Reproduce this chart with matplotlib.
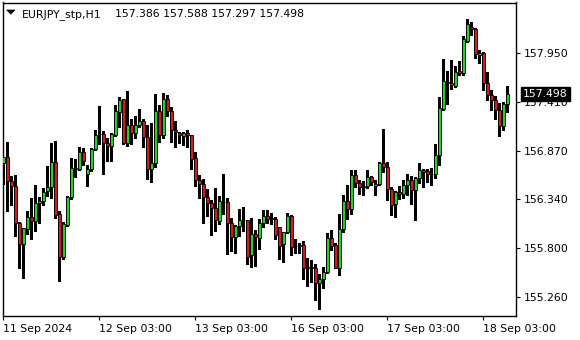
import matplotlib
matplotlib.use("Agg")
import matplotlib.pyplot as plt
from matplotlib.patches import Polygon
import numpy as np

plt.rcParams['font.family'] = ['DejaVu Sans']

symbol = "EURJPY_stp,H1"

opens = [156.731, 156.804, 156.536, 156.485, 156.078, 155.851, 156.016, 156.140, 156.096, 156.294,
         156.320, 156.423, 156.470, 156.745, 156.173, 155.704, 156.060, 156.357, 156.665, 156.665,
         156.855, 156.613, 156.668, 156.888, 157.053, 157.053, 156.954, 156.918, 157.039, 157.295,
         157.436, 156.951, 157.152, 157.061, 157.149, 157.196, 157.020, 156.668, 156.734, 157.306,
         157.042, 157.438, 157.306, 157.097, 157.064, 157.031, 157.064, 157.042, 156.789, 156.551,
         156.507, 156.360, 156.294, 156.243, 156.104, 156.305, 156.305, 156.074, 155.920, 156.041,
         156.107, 156.107, 155.722, 155.953, 155.909, 156.074, 156.151, 156.129, 156.122, 156.034,
         155.843, 155.975, 156.151, 155.825, 155.832, 155.832, 155.594, 155.594, 155.579, 155.422,
         155.458, 155.543, 155.913, 155.832, 155.587, 156.012, 156.320, 156.228, 156.606, 156.514,
         156.470, 156.481, 156.584, 156.481, 156.503, 156.734, 156.690, 156.448, 156.283, 156.415,
         156.393, 156.489, 156.547, 156.437, 156.569, 156.657, 156.650, 156.617, 156.613, 156.819,
         157.332, 157.614, 157.618, 157.585, 157.750, 157.721, 158.080, 158.234, 158.212, 157.919,
         157.948, 157.618, 157.486, 157.431, 157.321, 157.138, 157.386]

highs = [156.806, 156.969, 156.595, 156.606, 156.093, 156.027, 156.210, 156.353, 156.496, 156.360,
         156.459, 156.705, 156.954, 156.980, 156.210, 156.093, 156.368, 156.789, 156.782, 156.914,
         156.899, 156.716, 156.899, 157.101, 157.361, 157.083, 157.009, 157.061, 157.369, 157.460,
         157.440, 157.523, 157.222, 157.255, 157.332, 157.218, 157.156, 157.178, 157.493, 157.376,
         157.504, 157.486, 157.350, 157.200, 157.072, 157.079, 157.097, 157.046, 156.859, 156.606,
         156.562, 156.448, 156.327, 156.463, 156.375, 156.617, 156.349, 156.129, 156.052, 156.232,
         156.254, 156.115, 156.137, 155.997, 156.126, 156.214, 156.221, 156.184, 156.140, 156.038,
         155.983, 156.188, 156.166, 155.902, 155.862, 155.876, 155.693, 155.671, 155.627, 155.513,
         155.598, 155.964, 156.001, 155.854, 156.177, 156.382, 156.492, 156.661, 156.661, 156.551,
         156.540, 156.657, 156.595, 156.544, 156.742, 157.112, 156.749, 156.470, 156.423, 156.485,
         156.551, 156.613, 156.595, 156.580, 156.734, 156.668, 156.668, 156.683, 156.947, 157.460,
         157.878, 157.750, 157.871, 157.805, 157.853, 158.128, 158.322, 158.285, 158.216, 157.981,
         157.952, 157.739, 157.541, 157.475, 157.394, 157.409, 157.588]

lows = [156.503, 156.203, 156.269, 155.939, 155.587, 155.477, 155.957, 155.902, 155.994, 156.082,
        156.269, 156.375, 156.349, 156.137, 155.444, 155.678, 156.049, 156.335, 156.577, 156.657,
        156.716, 156.478, 156.646, 156.877, 156.943, 156.613, 156.753, 156.760, 157.028, 157.134,
        156.943, 156.925, 156.940, 157.013, 157.134, 156.907, 156.555, 156.522, 156.687, 156.962,
        157.006, 157.248, 156.962, 156.907, 156.951, 156.929, 156.907, 156.668, 156.478, 156.346,
        156.082, 156.159, 155.950, 155.994, 156.071, 156.173, 155.741, 155.774, 155.752, 155.931,
        155.994, 155.627, 155.598, 155.609, 155.796, 156.038, 156.074, 156.067, 155.898, 155.686,
        155.653, 155.964, 155.730, 155.744, 155.744, 155.458, 155.389, 155.425, 155.235, 155.132,
        155.363, 155.532, 155.781, 155.583, 155.502, 155.983, 156.126, 156.181, 156.467, 156.390,
        156.382, 156.463, 156.496, 156.382, 156.496, 156.632, 156.324, 156.166, 156.140, 156.342,
        156.349, 156.386, 156.287, 156.111, 156.514, 156.470, 156.522, 156.489, 156.569, 156.716,
        157.321, 157.387, 157.548, 157.570, 157.699, 157.702, 158.069, 158.146, 157.886, 157.834,
        157.541, 157.431, 157.321, 157.222, 157.035, 157.094, 157.297]

closes = [156.804, 156.533, 156.481, 156.074, 155.851, 156.019, 156.140, 156.096, 156.298, 156.320,
          156.419, 156.470, 156.745, 156.170, 155.704, 156.063, 156.360, 156.679, 156.679, 156.855,
          156.753, 156.672, 156.888, 157.042, 157.055, 156.951, 156.918, 157.053, 157.306, 157.431,
          156.951, 157.152, 157.061, 157.152, 157.196, 157.020, 156.668, 156.734, 157.306, 157.042,
          157.438, 157.303, 157.094, 157.075, 157.042, 157.064, 157.042, 156.775, 156.544, 156.500,
          156.360, 156.294, 156.239, 156.115, 156.313, 156.307, 156.074, 155.920, 156.041, 156.107,
          156.109, 155.708, 155.953, 155.920, 156.074, 156.151, 156.126, 156.118, 155.950, 155.829,
          155.975, 156.151, 155.818, 155.827, 155.821, 155.579, 155.583, 155.579, 155.422, 155.458,
          155.543, 155.913, 155.829, 155.587, 156.012, 156.320, 156.228, 156.606, 156.514, 156.470,
          156.481, 156.584, 156.525, 156.507, 156.734, 156.687, 156.448, 156.269, 156.415, 156.393,
          156.496, 156.547, 156.437, 156.569, 156.657, 156.632, 156.613, 156.615, 156.822, 157.339,
          157.640, 157.629, 157.589, 157.739, 157.721, 158.098, 158.263, 158.205, 157.933, 157.948,
          157.611, 157.482, 157.427, 157.317, 157.141, 157.386, 157.498]

xtick_bars = [0, 24, 48, 72, 96, 120]
xtick_labels = ["11 Sep 2024", "12 Sep 03:00", "13 Sep 03:00", "16 Sep 03:00",
                "17 Sep 03:00", "18 Sep 03:00"]
ytick_values = [157.950, 157.410, 156.870, 156.340, 155.800, 155.260]
ytick_labels = ["157.950", "157.410", "156.870", "156.340", "155.800", "155.260"]

W, H = 580, 340
FS = 7.8
bull = '#2ECC2E'
bear = '#CC1E1E'

fig = plt.figure(figsize=(W / 100, H / 100), dpi=100)
fig.patch.set_facecolor('white')
ax = fig.add_axes([2.5 / W, (H - 316) / H, 513.5 / W, 313.5 / H])

o = np.array(opens); h = np.array(highs); l = np.array(lows); c = np.array(closes)
x = np.arange(len(o))
up = c >= o
dn = ~up

ax.vlines(x, l, h, colors='black', linewidth=0.75, antialiased=False, zorder=2)
ax.bar(x[up], np.maximum(c[up] - o[up], 0.001), bottom=o[up], width=0.72,
       color=bull, edgecolor='black', linewidth=0.6, zorder=3)
ax.bar(x[dn], o[dn] - c[dn], bottom=c[dn], width=0.72,
       color=bear, edgecolor='black', linewidth=0.6, zorder=3)

ax.set_xlim(-0.15, 128.2)
ax.set_ylim(155.054, 158.501)

for s in ax.spines.values():
    s.set_color('black')
    s.set_linewidth(1.0)

ax.yaxis.tick_right()
ax.set_yticks(ytick_values)
ax.set_yticklabels(ytick_labels)
ax.tick_params(axis='y', direction='out', length=3, width=0.8, pad=2.4,
               labelsize=FS, colors='black')
ax.set_xticks(xtick_bars)
ax.set_xticklabels(xtick_labels)
ax.tick_params(axis='x', direction='out', length=3, width=0.8, pad=3,
               labelsize=FS, colors='black')
for lbl in ax.get_xticklabels():
    lbl.set_ha('left')

# header
tri = Polygon([(6.7 / W, 1 - 10 / H), (15 / W, 1 - 10 / H), (10.85 / W, 1 - 14.2 / H)],
              closed=True, transform=fig.transFigure, facecolor='black', edgecolor='black',
              linewidth=0.5)
fig.patches.append(tri)
fig.text(21.7 / W, 1 - 16.7 / H, symbol, fontsize=FS, va='baseline', ha='left', color='black')
ohlc = f"{opens[-1]:.3f} {highs[-1]:.3f} {lows[-1]:.3f} {closes[-1]:.3f}"
fig.text(115 / W, 1 - 16.7 / H, ohlc, fontsize=FS, va='baseline', ha='left', color='black')

# last price label
ax.annotate(f"{closes[-1]:.3f}", xy=(1, closes[-1]), xycoords=ax.get_yaxis_transform(),
            xytext=(7, 0), textcoords='offset pixels', va='center', ha='left',
            fontsize=FS, color='white', annotation_clip=False, zorder=10,
            bbox=dict(boxstyle='square,pad=0.2', fc='black', ec='black'))

fig.savefig('out.png', dpi=100, facecolor='white')
